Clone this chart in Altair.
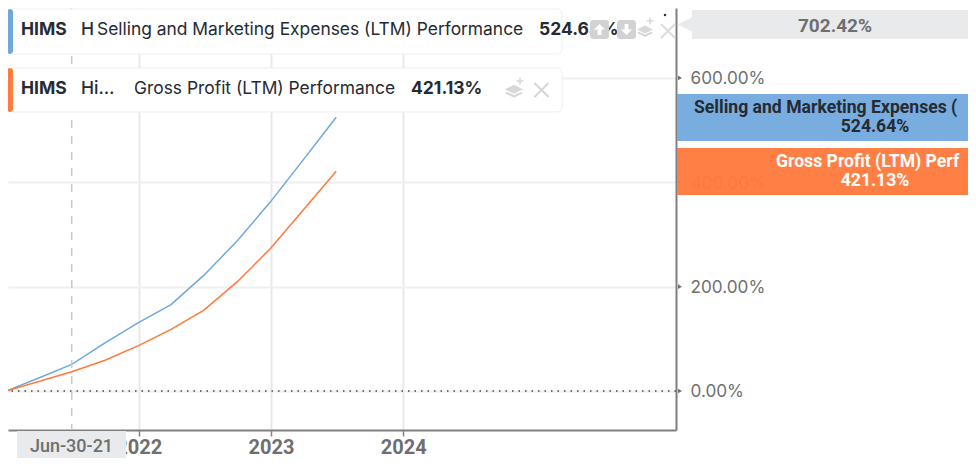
import altair as alt
import pandas as pd

dates = ["2020-12-31", "2021-03-31", "2021-06-30", "2021-09-30", "2021-12-31", "2022-03-31",
         "2022-06-30", "2022-09-30", "2022-12-31", "2023-03-31", "2023-06-30"]
selling = [0, 25, 51, 92, 131, 165.5, 222, 288, 363, 443, 524.64]
gross = [0, 18, 37, 59, 87, 118, 155, 209.5, 273.5, 347, 421.13]
y_ticks = [0, 200, 400, 600]
x_ticks = ["2021-01-01", "2022-01-01", "2023-01-01", "2024-01-01"]
cursor_date = ["2021-06-30"]
selling_name = "Selling and Marketing Expenses (LTM) Performance"
gross_name = "Gross Profit (LTM) Performance"
BLUE, ORANGE = "#6fa8dc", "#ff7a3c"
GREY_TEXT = "#6f6f6f"
DARK = "#252a33"
AXIS = "#808080"

rows = [{"date": d, "v": v, "s": "sell"} for d, v in zip(dates, selling)]
rows += [{"date": d, "v": v, "s": "gross"} for d, v in zip(dates, gross)]
df = pd.DataFrame(rows)
one = pd.DataFrame({"a": [0]})

xscale = alt.Scale(type="utc", domain=["2021-01-05", "2026-01-23"])
yscale = alt.Scale(domain=[-74.8, 734.1], nice=False, zero=False)
PX = lambda p: p - 8


def box(x0, x1, y0, y1, fill, radius=0, stroke=None, opacity=1):
    kw = {"cornerRadius": radius} if radius else {}
    if stroke:
        kw.update(stroke=stroke, strokeWidth=1)
    return alt.Chart(one).mark_rect(fill=fill, opacity=opacity, **kw).encode(
        x=alt.value(PX(x0)), x2=alt.value(PX(x1)), y=alt.value(PX(y0)), y2=alt.value(PX(y1)))


def txt(s, x, y, size, color=DARK, weight=400, align="left", font="Inter"):
    return alt.Chart(one).mark_text(text=s, fontSize=size, color=color, fontWeight=weight,
                                    align=align, baseline="middle", font=font).encode(
        x=alt.value(PX(x)), y=alt.value(PX(y)))


def sym(path, x, y, d, fill=None, stroke=None, sw=2):
    kw = {}
    if fill:
        kw.update(fill=fill, filled=True, strokeWidth=0)
    if stroke:
        kw.update(stroke=stroke, strokeWidth=sw, filled=False)
    return alt.Chart(one).mark_point(shape=path, size=d * d, opacity=1, **kw).encode(
        x=alt.value(PX(x)), y=alt.value(PX(y)))


CROSS = "M-1,-1L1,1M-1,1L1,-1"
LAYER = "M-1,-0.2L0,-0.7L1,-0.2L0,0.3ZM-1,0.25L0,0.75L1,0.25L0.75,0.1L0,0.45L-0.75,0.1Z"
PLUS = "M-1,0L1,0M0,-1L0,1"
UP = "M0,-1L1,0L0.35,0L0.35,1L-0.35,1L-0.35,0L-1,0Z"
DOWN = "M0,1L1,0L0.35,0L0.35,-1L-0.35,-1L-0.35,0L-1,0Z"
TIP = "M-1,0L1,-1L1,1Z"

base = alt.Chart(df)
x_axis = alt.Axis(values=x_ticks, format="%Y", formatType="utc", title=None, grid=True,
                  gridColor="#e9e9e9", gridWidth=2, domainColor=AXIS, domainWidth=2,
                  tickColor=AXIS, tickWidth=1.5, tickSize=6, labelFont="Roboto", labelFontSize=20,
                  labelFontWeight=700, labelColor=GREY_TEXT, labelPadding=1, labelBound=False,
                  labelFlush=False, labelOverlap=False)
y_axis = alt.Axis(values=y_ticks, orient="right", title=None, grid=True,
                  labelExpr="format(datum.value, '.2f') + '%'",
                  gridColor="#efefef", gridWidth=2, domainColor=AXIS, domainWidth=2, ticks=False,
                  labelFont="Inter", labelFontSize=17.2, labelColor=GREY_TEXT, labelPadding=14,
                  labelOffset=1, labelBound=False, labelFlush=False, labelOverlap=False)

lines = base.mark_line(strokeWidth=1.5, clip=True).encode(
    x=alt.X("date:T", scale=xscale, axis=x_axis),
    y=alt.Y("v:Q", scale=yscale, axis=y_axis),
    color=alt.Color("s:N", scale=alt.Scale(domain=["sell", "gross"], range=[BLUE, ORANGE]), legend=None),
    order=alt.Order("date:T"),
)
zero = alt.Chart(pd.DataFrame({"v": [0]})).mark_rule(color="#444444", strokeWidth=1.5, strokeDash=[1.5, 5]).encode(
    y=alt.Y("v:Q", scale=yscale, axis=y_axis))
cursor = alt.Chart(pd.DataFrame({"date": cursor_date})).mark_rule(color="#c9c9c9", strokeWidth=1.5, strokeDash=[8, 8]).encode(
    x=alt.X("date:T", scale=xscale, axis=x_axis))
markers = alt.Chart(pd.DataFrame({"v": y_ticks})).mark_point(
    shape="triangle-right", size=22, filled=True, color="#707070", opacity=1).encode(
    y=alt.Y("v:Q", scale=yscale, axis=y_axis), x=alt.value(PX(680)))

layers = [
    lines, zero, cursor, markers,
    # legend card 1
    box(7, 562, 9, 54, "#ffffff", 5, "#efefef"),
    box(7, 13, 9, 54, BLUE, 3),
    txt("HIMS", 21, 30, 17.5, weight=700),
    txt("H", 81, 30, 17.5, weight=500),
    txt(selling_name, 97, 30, 17.4),
    txt("524.64%", 539, 30, 17.5, weight=700),
    box(590, 609, 20, 39, "#d2d2d2", 3),
    sym(UP, 599.5, 29.5, 11, fill="#ffffff"),
    box(617, 636, 20, 39, "#d2d2d2", 3),
    sym(DOWN, 626.5, 29.5, 11, fill="#ffffff"),
    sym(LAYER, 645, 31, 16, fill="#d8d8d8"),
    sym(PLUS, 650, 21, 7, stroke="#d8d8d8", sw=1.5),
    sym(CROSS, 668, 31, 14, stroke="#dddddd", sw=2),
    sym("circle", 665, 15, 2.5, fill="#333333"),
    # legend card 2
    box(7, 562, 68, 112, "#ffffff", 5, "#efefef"),
    box(7, 13, 68, 112, ORANGE, 3),
    txt("HIMS", 21, 89, 17.5, weight=700),
    txt("Hi…", 81, 89, 17.5, weight=500),
    txt(gross_name, 134, 89, 17.4),
    txt("421.13%", 411, 89, 17.5, weight=700),
    sym(LAYER, 514, 91, 18, fill="#d8d8d8"),
    sym(PLUS, 520, 81, 7, stroke="#d8d8d8", sw=1.5),
    sym(CROSS, 541.5, 90, 14, stroke="#d6d6d6", sw=2),
    # right flags
    box(692, 976, 10, 39, "#e9eaec"),
    sym(TIP, 685, 24.5, 14.5, fill="#e9eaec"),
    txt("702.42%", 835, 26, 19, GREY_TEXT, 700, "center", "Roboto"),
    box(677, 976, 94, 141, "#7aaddf"),
    txt("Selling and Marketing Expenses (", 694, 108, 17.6, DARK, 700, "left", "Roboto"),
    txt("524.64%", 875, 127, 17.6, DARK, 700, "center", "Roboto"),
    box(677, 976, 148, 195, "#ff7a3c", opacity=0.96),
    txt("Gross Profit (LTM) Perf", 776, 162, 17.6, "#ffffff", 700, "left", "Roboto"),
    txt("421.13%", 875, 181, 17.6, "#ffffff", 700, "center", "Roboto"),
    # cursor date flag
    box(17, 126, 431, 466, "#e9eaec"),
    txt("Jun-30-21", 71.5, 447, 18, GREY_TEXT, 500, "center", "Roboto"),
]

chart = alt.layer(*layers).resolve_scale(color="independent").properties(
    width=668, height=422,
    autosize=alt.AutoSizeParams(type="none"),
    padding={"left": 0, "top": 0, "right": 292, "bottom": 28},
    background="#ffffff",
).configure_view(stroke=None)

chart.save("out.html", embed_options={"renderer": "svg", "actions": False})
